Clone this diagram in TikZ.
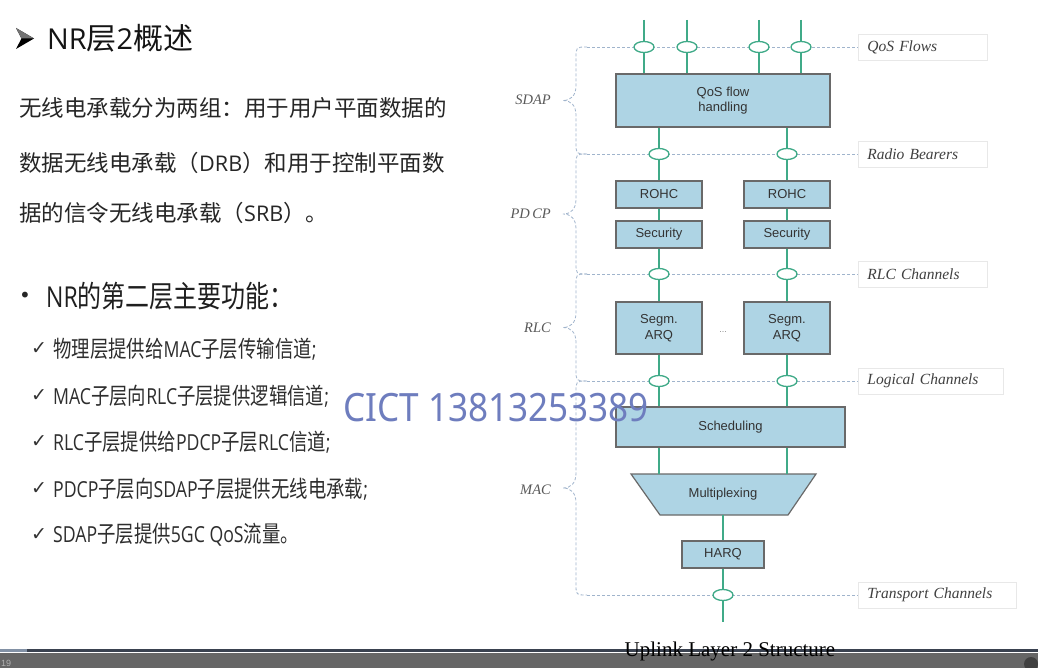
\documentclass[tikz,border=0pt]{standalone}
\usepackage{fontspec}
\usetikzlibrary{shapes.geometric}
\setmainfont{Liberation Serif}
\newfontfamily\cjk{Noto Sans CJK SC}
\newfontfamily\cjknarrow[FakeStretch=0.8]{Noto Sans CJK SC}
\newfontfamily\cjkhead[FakeStretch=0.8]{Noto Sans CJK SC}
\newfontfamily\latfont[Scale=0.96]{Open Sans}
\newfontfamily\latnarrowfont[Scale=0.96,FakeStretch=0.8]{Open Sans}
\newfontfamily\boxfont{Liberation Sans}
\newfontfamily\symfont{DejaVu Sans}
\newfontfamily\wmfont[FakeStretch=0.9]{Noto Sans}

\newcommand{\latx}[1]{{\latfont #1}}
\newcommand{\latn}[1]{{\latnarrowfont #1}}

\definecolor{boxfill}{RGB}{174,212,228}
\definecolor{boxline}{RGB}{105,105,105}
\definecolor{chan}{RGB}{64,170,136}
\definecolor{guide}{RGB}{160,180,204}
\definecolor{wmark}{RGB}{110,125,190}
\definecolor{bardark}{RGB}{58,66,80}
\definecolor{barlight}{RGB}{130,145,165}
\definecolor{bargray}{RGB}{102,102,102}

\newcommand{\fsz}[1]{\fontsize{#1}{#1}\selectfont}
% dashed brace on the left of one protocol layer, between two channel levels
\newcommand{\layerbrace}[2]{%
  \pgfmathsetmacro{\ymid}{(#1+#2)/2}%
  \draw[guideline] (587,#1) .. controls (576,#1) .. (576,#1+11)
    -- (576,\ymid-15) .. controls (576,\ymid-5) and (571,\ymid) .. (563,\ymid)
    .. controls (571,\ymid) and (576,\ymid+5) .. (576,\ymid+15)
    -- (576,#2-11) .. controls (576,#2) .. (587,#2);}

\begin{document}
\begin{tikzpicture}[x=1pt,y=-1pt,
  blockbox/.style={draw=boxline, line width=1.2pt, fill=boxfill, inner sep=0pt,
    font=\boxfont\fsz{13}, text=black!80, align=center},
  blockshape/.style={draw=boxline, line width=1.2pt, fill=boxfill},
  chanline/.style={draw=chan, line width=2pt},
  chanring/.style={ellipse, draw=chan, line width=1.3pt, fill=white,
    minimum width=20pt, minimum height=11pt, inner sep=0pt},
  guideline/.style={draw=guide, dash pattern=on 3pt off 2pt, line width=0.8pt},
  chanbox/.style={draw=black!9, line width=0.8pt, font=\itshape\fsz{15.5}, text=black!75,
    anchor=west, minimum height=26pt, inner xsep=9pt, inner ysep=0pt, align=left},
  layerlabel/.style={font=\itshape\fsz{14.5}, text=black!65, anchor=east, inner sep=0pt},
  cjkline/.style={anchor=west, inner sep=0pt, font=\cjk\fsz{22.5}, text=black!85},
  checkline/.style={anchor=west, inner sep=0pt, font=\cjknarrow\fsz{23}, text=black!82},
  checkmark/.style={anchor=west, inner sep=0pt, font=\symfont\fsz{19}, text=black!80}]

\useasboundingbox (0,0) rectangle (1038,668);
\fill[white] (0,0) rectangle (1038,668);

% ---------------- left-hand text ----------------
\fill[black] (16,28) -- (34,38.5) -- (16,49) -- (21.5,38.5) -- cycle;
\fill[black!55] (16,28) -- (34,38.5) -- (21.5,38.5) -- cycle;
\node[anchor=west, inner sep=0pt, font=\cjk\fsz{30}, text=black!92] (title) at (47,38) {\latx{NR}层\latx{2}概述};

\node[cjkline] (p1) at (19,108) {无线电承载分为两组：用于用户平面数据的};
\node[cjkline] (p2) at (19,163) {数据无线电承载（\latx{DRB}）和用于控制平面数};
\node[cjkline] (p3) at (19,213) {据的信令无线电承载（\latx{SRB}）。};

\node[anchor=west, inner sep=0pt, font=\symfont\fsz{20}, text=black!85] (dot) at (19,297) {•};
\node[anchor=west, inner sep=0pt, font=\cjkhead\fsz{30}, text=black!88] (head) at (46,296) {\latn{NR}的第二层主要功能：};

\node[checkmark] (c1) at (31,349) {✓};
\node[checkline] (t1) at (53,349) {物理层提供给\latn{MAC}子层传输信道\latn{;}};
\node[checkmark] (c2) at (31,396) {✓};
\node[checkline] (t2) at (53,396) {\latn{MAC}子层向\latn{RLC}子层提供逻辑信道\latn{;}};
\node[checkmark] (c3) at (31,442) {✓};
\node[checkline] (t3) at (53,442) {\latn{RLC}子层提供给\latn{PDCP}子层\latn{RLC}信道\latn{;}};
\node[checkmark] (c4) at (31,489) {✓};
\node[checkline] (t4) at (53,489) {\latn{PDCP}子层向\latn{SDAP}子层提供无线电承载\latn{;}};
\node[checkmark] (c5) at (31,535) {✓};
\node[checkline] (t5) at (53,535) {\latn{SDAP}子层提供\latn{5GC QoS}流量。};

% ---------------- channel level labels ----------------
\node[chanbox, text width=111pt] (lqos) at (858,47) {QoS Flows};
\node[chanbox, text width=111pt] (lrb)  at (858,154) {Radio Bearers};
\node[chanbox, text width=111pt] (lrlc) at (858,274) {RLC Channels};
\node[chanbox, text width=127pt] (llog) at (858,381) {Logical Channels};
\node[chanbox, text width=140pt] (ltr)  at (858,595) {Transport Channels};

\draw[guideline] (587,47)  -- (lqos.west);
\draw[guideline] (587,154) -- (lrb.west);
\draw[guideline] (587,274) -- (lrlc.west);
\draw[guideline] (587,381) -- (llog.west);
\draw[guideline] (587,595) -- (ltr.west);

\layerbrace{47}{154}
\layerbrace{154}{274}
\layerbrace{274}{381}
\layerbrace{381}{595}

\node[layerlabel] (sdap) at (551,100) {SDAP};
\node[layerlabel] (pdcp) at (551,214) {PD\,CP};
\node[layerlabel] (rlc)  at (551,328) {RLC};
\node[layerlabel] (mac)  at (551,490) {MAC};

% ---------------- functional blocks ----------------
\node[blockbox, minimum width=214pt, minimum height=53pt] (qos) at (723,100.5) {QoS flow\\[2pt]handling};
\node[blockbox, minimum width=86pt, minimum height=27pt] (rohcL) at (659,194.5) {ROHC};
\node[blockbox, minimum width=86pt, minimum height=27pt] (rohcR) at (787,194.5) {ROHC};
\node[blockbox, minimum width=86pt, minimum height=27pt] (secL) at (659,234.5) {Security};
\node[blockbox, minimum width=86pt, minimum height=27pt] (secR) at (787,234.5) {Security};
\node[blockbox, minimum width=86pt, minimum height=52pt] (segL) at (659,328) {Segm.\\[3pt]ARQ};
\node[blockbox, minimum width=86pt, minimum height=52pt] (segR) at (787,328) {Segm.\\[3pt]ARQ};
\node[font=\boxfont\fsz{9}, text=black!45, inner sep=0pt] (more) at (723,332) {...};
\node[blockbox, minimum width=229pt, minimum height=40pt] (sched) at (730.5,427) {Scheduling};
\draw[blockshape] (631,474) -- (816,474) -- (788,515) -- (660,515) -- cycle;
\coordinate (muxtop) at (723,474);
\coordinate (muxbot) at (723,515);
\node[font=\boxfont\fsz{13}, text=black!80, inner sep=0pt] (mux) at (723,494.5) {Multiplexing};
\node[blockbox, minimum width=82pt, minimum height=27pt] (harq) at (723,554.5) {HARQ};

% ---------------- channel rings ----------------
\coordinate (f1) at (644,20);
\coordinate (f2) at (687,20);
\coordinate (f3) at (759,20);
\coordinate (f4) at (801,20);
\node[chanring] (q1) at (644,47) {};
\node[chanring] (q2) at (687,47) {};
\node[chanring] (q3) at (759,47) {};
\node[chanring] (q4) at (801,47) {};
\node[chanring] (rb1) at (659,154) {};
\node[chanring] (rb2) at (787,154) {};
\node[chanring] (rl1) at (659,274) {};
\node[chanring] (rl2) at (787,274) {};
\node[chanring] (lc1) at (659,381) {};
\node[chanring] (lc2) at (787,381) {};
\node[chanring] (tc) at (723,595) {};
\coordinate (tend) at (723,622);

% ---------------- connectors ----------------
\foreach \k in {1,2,3,4} {
  \draw[chanline] (f\k) -- (q\k) -- (q\k |- qos.north);
}
\draw[chanline] (rb1 |- qos.south) -- (rb1) -- (rohcL);
\draw[chanline] (rb2 |- qos.south) -- (rb2) -- (rohcR);
\draw[chanline] (rohcL) -- (secL);
\draw[chanline] (rohcR) -- (secR);
\draw[chanline] (secL) -- (rl1) -- (segL);
\draw[chanline] (secR) -- (rl2) -- (segR);
\draw[chanline] (segL) -- (lc1) -- (lc1 |- sched.north);
\draw[chanline] (segR) -- (lc2) -- (lc2 |- sched.north);
\draw[chanline] (sched.south -| segL) -- (segL |- muxtop);
\draw[chanline] (sched.south -| segR) -- (segR |- muxtop);
\draw[chanline] (muxbot) -- (harq);
\draw[chanline] (harq) -- (tc) -- (tend);

% ---------------- player strip at the bottom ----------------
\fill[bargray] (0,653) rectangle (1038,668);
\fill[white] (0,651.5) rectangle (1038,653);
\fill[bardark] (0,648.5) rectangle (1038,651.5);
\fill[barlight] (0,648.5) rectangle (27,651.5);
\node[anchor=west, inner sep=0pt, font=\boxfont\fsz{9}, text=black!30] (slideno) at (1,663) {19};
\fill[black!75] (1031,664) circle (7);

\node[inner sep=0pt, font=\fsz{21}, text=black] (caption) at (730,651) {Uplink Layer 2 Structure};

% ---------------- watermark ----------------
\node[anchor=west, inner sep=0pt, font=\wmfont\fsz{39}, text=wmark] (wm) at (343,408) {CICT 13813253389};

\end{tikzpicture}
\end{document}
